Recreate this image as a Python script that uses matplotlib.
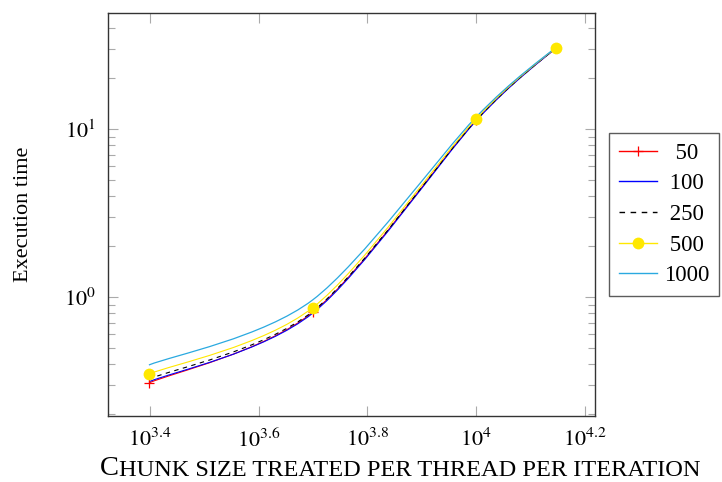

# %%
import numpy as np

import matplotlib
matplotlib.use("Agg")
import matplotlib.pyplot as plt
from matplotlib.path import Path
from matplotlib.patches import PathPatch
from matplotlib.lines import Line2D
from matplotlib.ticker import FixedLocator, NullLocator, LogLocator, NullFormatter

plt.rcParams['font.family'] = ['Liberation Serif', 'DejaVu Serif']
plt.rcParams['mathtext.fontset'] = 'stix'

# %%
# chunk size per thread per iteration
chunk = [2500, 5000, 10000, 14000]

t_50 = [0.308, 0.81, 11.3, 30.3]
t_100 = [0.313, 0.80, 11.2, 30.3]
t_250 = [0.325, 0.82, 11.3, 30.4]
t_500 = [0.348, 0.863, 11.5, 30.5]
t_1000 = [0.394, 0.96, 11.8, 30.6]

labels = ["50", "100", "250", "500", "1000"]
xtick_exps = [3.4, 3.6, 3.8, 4.0, 4.2]
ytick_exps = [0, 1]


# %%
def smooth_path(xs, ys, tension=0.15):
    # pgfplots-like smooth curve: bezier through the points in log space
    p = np.column_stack([np.log10(xs), np.log10(ys)])
    n = len(p)
    verts = [p[0]]
    codes = [Path.MOVETO]
    for i in range(n - 1):
        prev = p[i - 1] if i > 0 else p[i]
        nxt = p[i + 2] if i + 2 < n else p[i + 1]
        c1 = p[i] + tension * (p[i + 1] - prev)
        c2 = p[i + 1] - tension * (nxt - p[i])
        verts += [c1, c2, p[i + 1]]
        codes += [Path.CURVE4] * 3
    return Path(10 ** np.array(verts), codes)


def pad_label(s, longest):
    # centre the legend text the way pgfplots does (digits are 0.5em wide)
    d = len(longest) - len(s)
    return "\u2007" * (d // 2) + "\u2005" * (d % 2) + s


fig = plt.figure(figsize=(7.22, 4.82), dpi=100)
ax = fig.add_axes([0.1496, 0.137, 0.6741, 0.835])
ax.set_xscale('log')
ax.set_yscale('log')

series = [
    (t_50, dict(color='#ff0000', lw=0.8), dict(marker='+', ms=7, mew=0.9)),
    (t_100, dict(color='#0000ff', lw=0.8), None),
    (t_250, dict(color='black', lw=0.8, ls=(0, (4, 4))), None),
    (t_500, dict(color='#ffe800', lw=0.8), dict(marker='o', ms=8.5, mew=0)),
    (t_1000, dict(color='#2aa9e0', lw=0.9), None),
]

handles = []
for vals, st, mk in series:
    patch = PathPatch(smooth_path(chunk, vals), fill=False, capstyle='butt',
                      edgecolor=st['color'], lw=st['lw'],
                      linestyle=st.get('ls', '-'), transform=ax.transData)
    ax.add_patch(patch)
    hk = dict(st)
    if mk is not None:
        ax.plot(chunk, vals, ls='none', color=st['color'], zorder=3, **mk)
        hk.update(mk)
    hk['lw'] = 1.0
    handles.append(Line2D([], [], **hk))

ax.set_xlim(10 ** 3.3227, 10 ** 4.218)
ax.set_ylim(10 ** -0.708, 10 ** 1.6875)

ax.xaxis.set_major_locator(FixedLocator([10 ** e for e in xtick_exps]))
ax.set_xticklabels(["$10^{%g}$" % e for e in xtick_exps])
ax.xaxis.set_minor_locator(NullLocator())
ax.yaxis.set_major_locator(FixedLocator([10.0 ** e for e in ytick_exps]))
ax.set_yticklabels(["$10^{%d}$" % e for e in ytick_exps])
ax.yaxis.set_minor_locator(LogLocator(base=10, subs=np.arange(2, 10)))
ax.yaxis.set_minor_formatter(NullFormatter())

ax.tick_params(which='both', direction='in', top=True, right=True,
               color='#aaaaaa', labelsize=16)
ax.tick_params(which='major', length=7, width=0.8)
ax.tick_params(which='minor', length=5, width=0.8)
ax.tick_params(axis='x', pad=9)
ax.tick_params(axis='y', pad=9)
for s in ax.spines.values():
    s.set_color('#333333')
    s.set_linewidth(1.0)

ax.set_ylabel("Execution time", fontsize=16, labelpad=22)

# small caps x label
t1 = fig.text(0.1385, 0.015, "C", fontsize=20.5, ha='left', va='baseline')
ax.annotate("HUNK SIZE TREATED PER THREAD PER ITERATION", xy=(1, 0),
            xycoords=t1, fontsize=17.6, ha='left', va='bottom',
            annotation_clip=False)

longest = max(labels, key=len)
leg = fig.legend(handles, [pad_label(l, longest) for l in labels],
                 loc='center left', bbox_to_anchor=(0.844, 0.555),
                 borderaxespad=0, fontsize=16.5,
                 frameon=True, fancybox=False, edgecolor='#333333',
                 handlelength=1.7, handletextpad=0.3, labelspacing=0.42,
                 borderpad=0.4)
leg.get_frame().set_linewidth(1.0)

fig.savefig("out.png", dpi=100)
